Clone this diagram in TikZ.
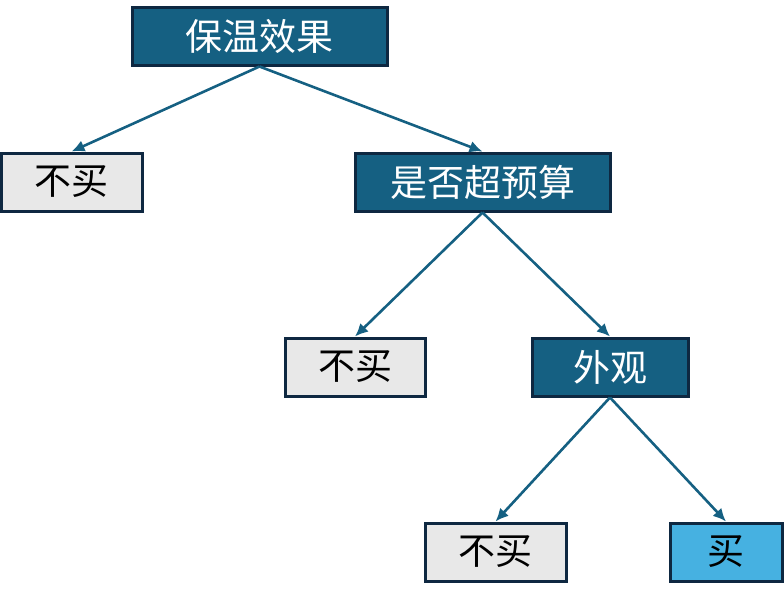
\documentclass[tikz,border=0pt]{standalone}
\usepackage{fontspec}
\newfontfamily\cjk{Noto Sans CJK SC}
\usetikzlibrary{arrows.meta}
\definecolor{deepblue}{HTML}{156082}
\definecolor{edgeblue}{HTML}{0E2841}
\definecolor{leafgray}{HTML}{E8E8E8}
\definecolor{buyblue}{HTML}{46B1E1}
\begin{document}
\begin{tikzpicture}[x=1pt,y=-1pt,
    box/.style={draw=edgeblue,line width=3pt,minimum height=58pt,
      inner sep=0pt,font=\cjk\fontsize{37}{40}\selectfont},
    test/.style={box,fill=deepblue,text=white},
    leaf/.style={box,fill=leafgray,text=black},
    buy/.style={box,fill=buyblue,text=black},
    branch/.style={draw=deepblue,line width=2.6pt,
      -{Latex[length=13pt,width=12pt]}}]
  \useasboundingbox (0,0) rectangle (784,598);
  \node[test,minimum width=255pt] (keep) at (259.5,36) {保温效果};
  \node[leaf,minimum width=141pt] (nobuyA) at (71.5,182) {不买};
  \node[test,minimum width=255pt] (budget) at (482.5,182) {是否超预算};
  \node[leaf,minimum width=140pt] (nobuyB) at (355,367) {不买};
  \node[test,minimum width=156pt] (look) at (610,367) {外观};
  \node[leaf,minimum width=141pt] (nobuyC) at (495.5,552) {不买};
  \node[buy,minimum width=112pt] (yes) at (726,552) {买};
  \draw[branch] (keep.south) -- (nobuyA.north);
  \draw[branch] (keep.south) -- (budget.north);
  \draw[branch] (budget.south) -- (nobuyB.north);
  \draw[branch] (budget.south) -- (look.north);
  \draw[branch] (look.south) -- (nobuyC.north);
  \draw[branch] (look.south) -- (yes.north);
\end{tikzpicture}
\end{document}
